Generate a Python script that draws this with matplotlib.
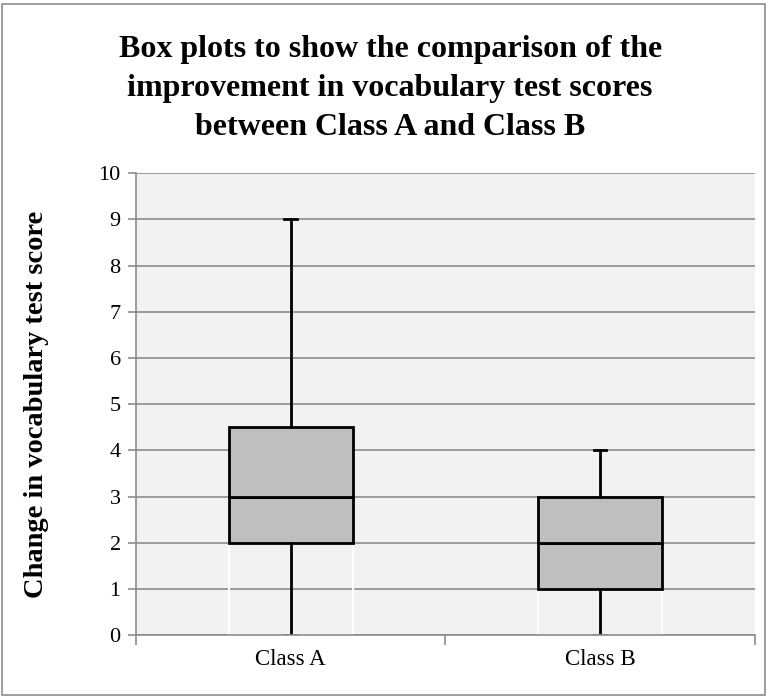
import matplotlib.pyplot as plt
from matplotlib.patches import Rectangle

# five-number summaries
classes = ['Class A', 'Class B']
mins = [0, 0]
q1 = [2, 1]
medians = [3, 2]
q3 = [4.5, 3]
maxs = [9, 4]

plt.rcParams['font.family'] = ['Liberation Serif', 'DejaVu Serif']

fig = plt.figure(figsize=(7.68, 6.98), dpi=100)
fig.patches.append(Rectangle((0.003, 0.004), 0.993, 0.99, transform=fig.transFigure,
                             fill=False, edgecolor='#8c8c8c', lw=1.2))
ax = fig.add_axes([0.177, 0.09, 0.806, 0.662])
ax.set_facecolor('#f2f2f2')

x = range(len(classes))
w = 0.4
lower = [b - a for a, b in zip(mins, q1)]
box_lo = [m - a for a, m in zip(q1, medians)]
box_hi = [b - m for m, b in zip(medians, q3)]

# invisible base bar, then the two halves of the box
ax.bar(x, lower, w, bottom=mins, fill=False, edgecolor='white', lw=1.5, zorder=2)
ax.bar(x, box_lo, w, bottom=q1, color='#bfbfbf', edgecolor='black', lw=2, zorder=4)
ax.bar(x, box_hi, w, bottom=medians, color='#bfbfbf', edgecolor='black', lw=2, zorder=4)

for i in x:
    ax.plot([i, i], [mins[i], q1[i]], color='black', lw=2, zorder=5)
    ax.plot([i, i], [q3[i], maxs[i]], color='black', lw=2, zorder=5)
    ax.plot([i - 0.02, i + 0.02], [maxs[i]] * 2, color='black', lw=2, zorder=5)
    ax.plot([i - 0.02, i + 0.02], [mins[i]] * 2, color='#888888', lw=2, zorder=5)

ax.set_xlim(-0.5, 1.5)
ax.set_ylim(0, 10)
ax.set_yticks(range(0, 11))
ax.yaxis.grid(True, color='#8c8c8c', lw=1.2)
ax.set_axisbelow(True)
ax.set_xticks(list(x))
ax.set_xticklabels(classes, fontsize=16.5)
ax.set_xticks([-0.5, 0.5, 1.5], minor=True)
ax.tick_params(axis='x', which='major', length=0, pad=10)
ax.tick_params(axis='x', which='minor', length=7, color='#8c8c8c', width=1.2)
ax.tick_params(axis='y', length=6, color='#8c8c8c', width=1.2, labelsize=16, pad=5)
for s in ['top', 'right']:
    ax.spines[s].set_visible(False)
for s in ['left', 'bottom']:
    ax.spines[s].set_color('#8c8c8c')
    ax.spines[s].set_linewidth(1.2)

ax.set_ylabel('Change in vocabulary test score', fontsize=20.5, fontweight='bold')
ax.yaxis.set_label_coords(-0.14, 0.5)
fig.text(0.508, 0.95, 'Box plots to show the comparison of the\n'
         'improvement in vocabulary test scores\n'
         'between Class A and Class B',
         ha='center', va='top', fontsize=23, fontweight='bold', linespacing=1.45)

fig.savefig('out.png', dpi=100)
